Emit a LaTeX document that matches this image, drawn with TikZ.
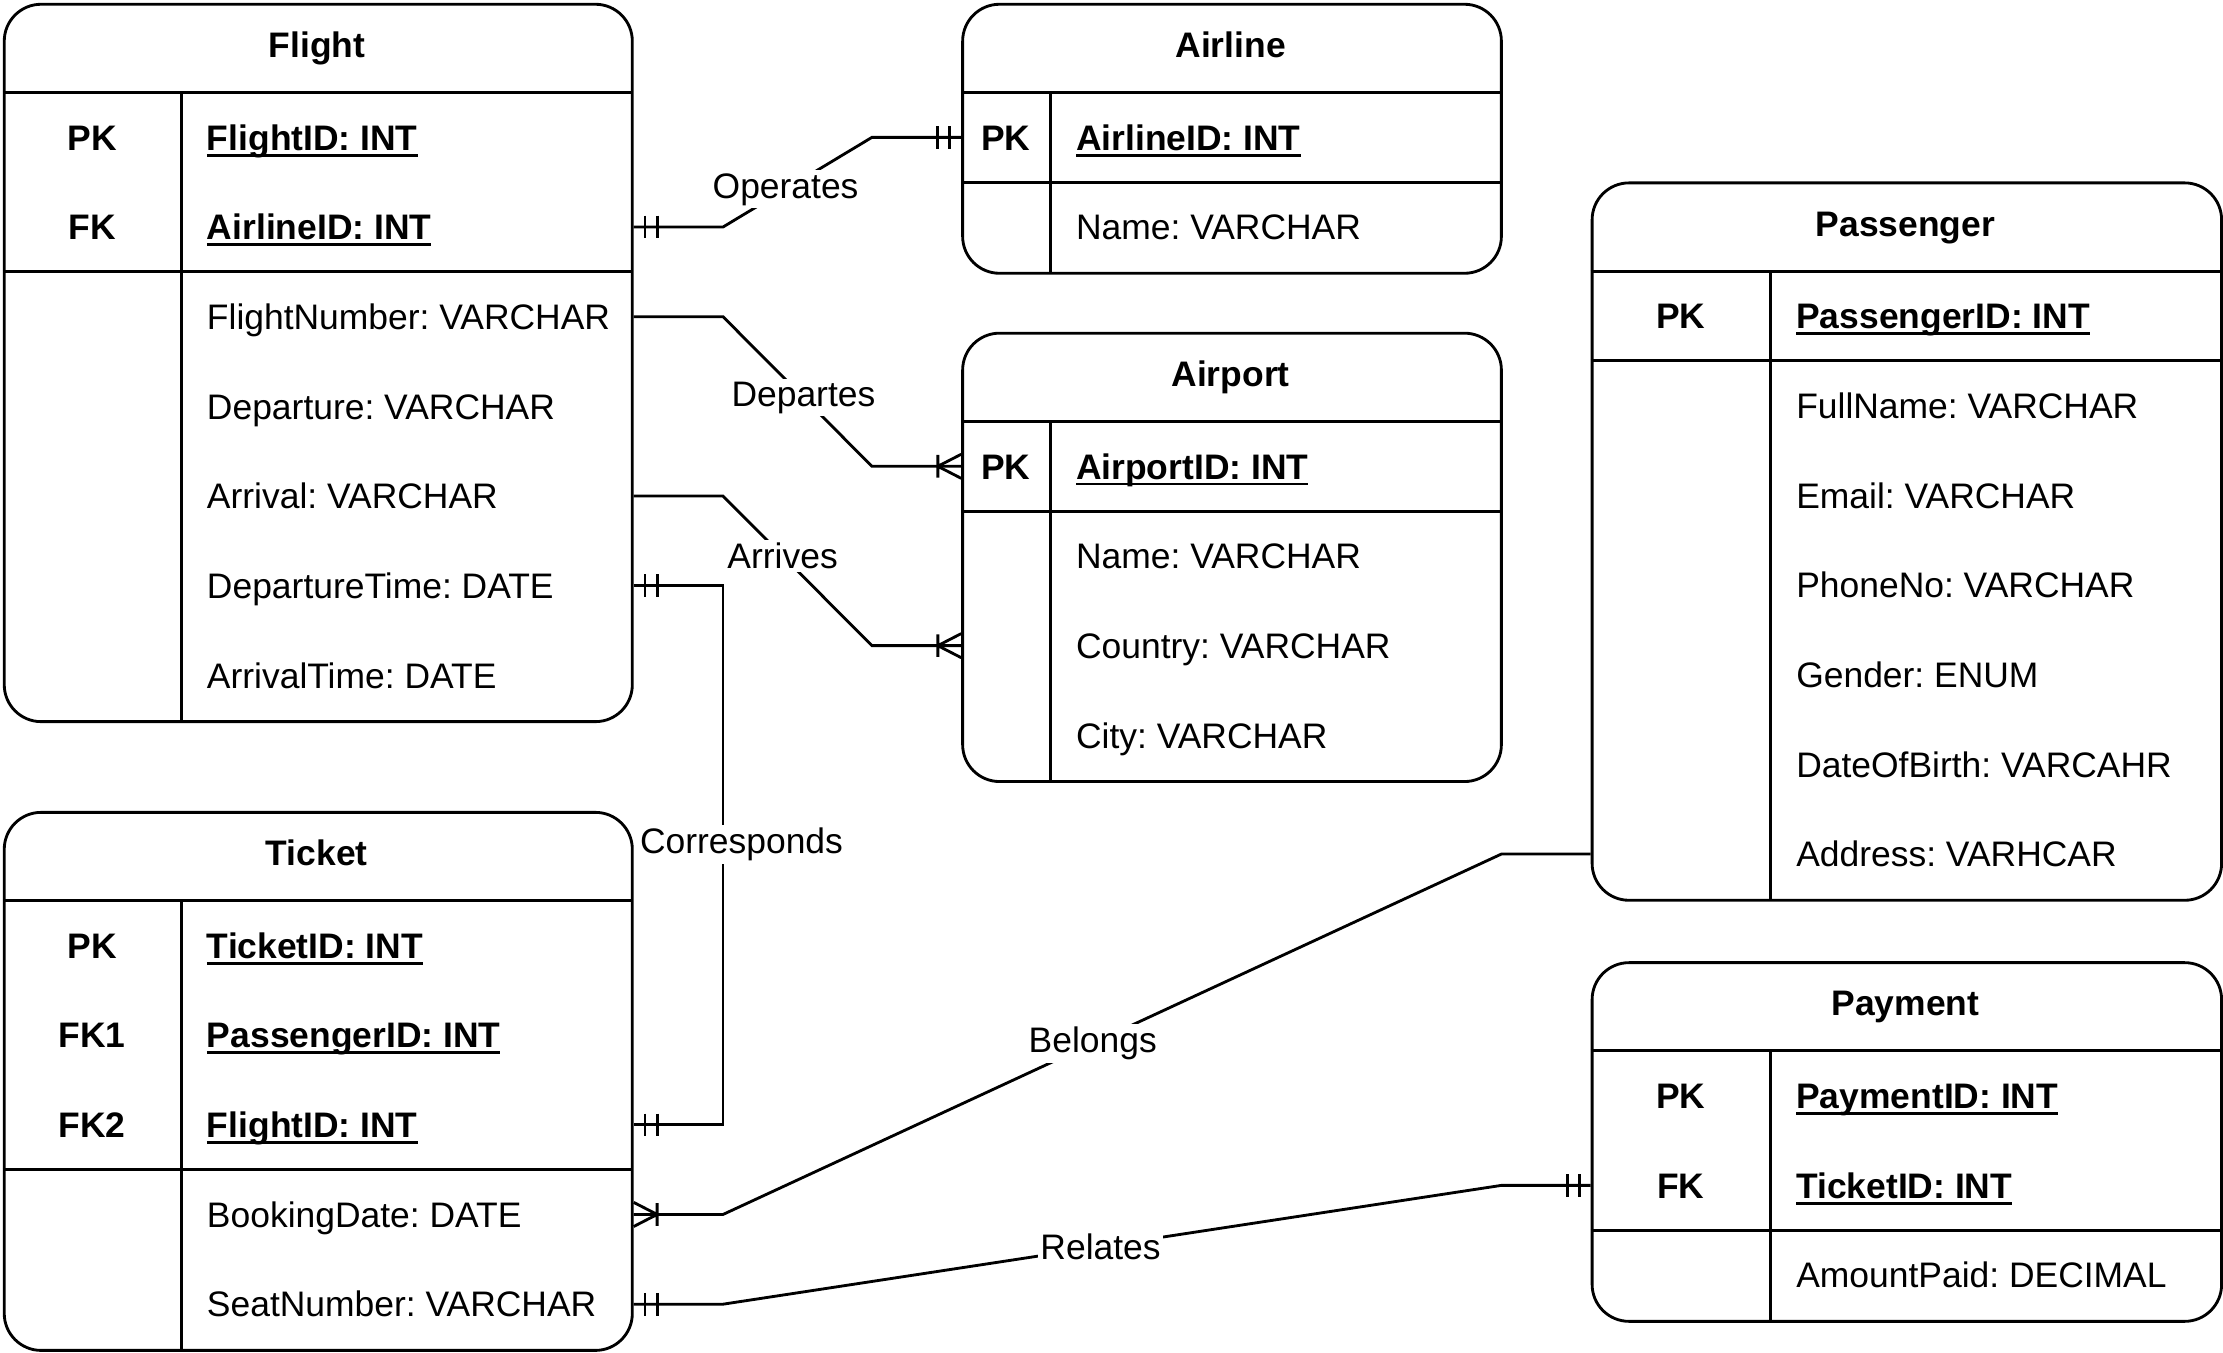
\documentclass[tikz,border=0pt]{standalone}
\usepackage{fontspec}
\setmainfont{Liberation Sans}
\usepackage{tikz}
\usetikzlibrary{calc}
\usetikzlibrary{positioning}
\frenchspacing
\newcommand{\keyline}[1]{\setbox0\hbox{#1}\rlap{\rule[-4.5pt]{\wd0}{2pt}}\box0}
\tikzstyle{entity} = [rectangle, draw=black, rounded corners=26pt, anchor=north west, inner sep=0pt]
\tikzstyle{title} = [inner sep=0pt, text height=18pt, text depth=0pt, font=\fontsize{25}{30}\selectfont\bfseries]
\tikzstyle{keyname} = [title]
\tikzstyle{attr} = [anchor=west, inner sep=0pt, text height=18pt, text depth=0pt, font=\fontsize{25}{30}\selectfont]
\tikzstyle{keyattr} = [attr, font=\fontsize{25}{30}\selectfont\bfseries]
\tikzstyle{rel} = [fill=white, inner sep=2pt, font=\fontsize{25}{30}\selectfont]
\tikzstyle{link} = [draw=black, line width=2pt]
\tikzset{
  onemark/.pic={\draw[link] (8,-8) -- (8,8) (16.5,-8) -- (16.5,8);},
  manymark/.pic={\draw[link] (16.5,-8) -- (16.5,8) (0,-8.5) -- (16.5,0) -- (0,8.5);}
}

\begin{document}
\begin{tikzpicture}[x=1pt, y=-1pt, line width=2pt]
\useasboundingbox (0,0) rectangle (1568,954);

% Flight
\node (flight) [entity, minimum width=443pt, minimum height=506pt] at (2,2) {};
\node (flighttitle) [title] at (223.5,31.6) {Flight};
\draw (2,65.25) -- (445,65.25) (2,191.75) -- (445,191.75) (128,65.25) -- (128,508);
\node (fpk) [keyname] at (65,96.9) {PK};
\node (fpkattr) [keyattr] at (145,96.9) {\keyline{FlightID: INT}};
\node (ffk) [keyname] at (65,160.1) {FK};
\node (ffkattr) [keyattr] at (145,160.1) {\keyline{AirlineID: INT}};
\node (fnumber) [attr] at (145,223.4) {FlightNumber: VARCHAR};
\node (fdeparture) [attr] at (145,286.6) {Departure: VARCHAR};
\node (farrival) [attr] at (145,349.9) {Arrival: VARCHAR};
\node (fdeptime) [attr] at (145,413.1) {DepartureTime: DATE};
\node (farrtime) [attr] at (145,476.4) {ArrivalTime: DATE};

% Airline
\node (airline) [entity, minimum width=380pt, minimum height=189.75pt] at (678,2) {};
\node (airlinetitle) [title] at (868,31.6) {Airline};
\draw (678,65.25) -- (1058,65.25) (678,128.5) -- (1058,128.5) (741,65.25) -- (741,191.75);
\node (alpk) [keyname] at (709.5,96.9) {PK};
\node (alpkattr) [keyattr] at (758,96.9) {\keyline{AirlineID: INT}};
\node (alname) [attr] at (758,160.1) {Name: VARCHAR};

% Airport
\node (airport) [entity, minimum width=380pt, minimum height=316.25pt] at (678,234) {};
\node (airporttitle) [title] at (868,263.6) {Airport};
\draw (678,297.25) -- (1058,297.25) (678,360.5) -- (1058,360.5) (741,297.25) -- (741,550.25);
\node (appk) [keyname] at (709.5,328.9) {PK};
\node (appkattr) [keyattr] at (758,328.9) {\keyline{AirportID: INT}};
\node (apname) [attr] at (758,392.1) {Name: VARCHAR};
\node (apcountry) [attr] at (758,455.4) {Country: VARCHAR};
\node (apcity) [attr] at (758,518.6) {City: VARCHAR};

% Passenger
\node (passenger) [entity, minimum width=444pt, minimum height=506pt] at (1122,128) {};
\node (passengertitle) [title] at (1344,157.6) {Passenger};
\draw (1122,191.25) -- (1566,191.25) (1122,254.5) -- (1566,254.5) (1249,191.25) -- (1249,634);
\node (ppk) [keyname] at (1185.5,222.9) {PK};
\node (ppkattr) [keyattr] at (1266,222.9) {\keyline{PassengerID: INT}};
\node (pname) [attr] at (1266,286.1) {FullName: VARCHAR};
\node (pemail) [attr] at (1266,349.4) {Email: VARCHAR};
\node (pphone) [attr] at (1266,412.6) {PhoneNo: VARCHAR};
\node (pgender) [attr] at (1266,475.9) {Gender: ENUM};
\node (pbirth) [attr] at (1266,539.1) {DateOfBirth: VARCAHR};
\node (paddress) [attr] at (1266,602.4) {Address: VARHCAR};

% Ticket
\node (ticket) [entity, minimum width=443pt, minimum height=379.5pt] at (2,572) {};
\node (tickettitle) [title] at (223.5,601.6) {Ticket};
\draw (2,635.25) -- (445,635.25) (2,825) -- (445,825) (128,635.25) -- (128,951.5);
\node (tpk) [keyname] at (65,666.9) {PK};
\node (tpkattr) [keyattr] at (145,666.9) {\keyline{TicketID: INT}};
\node (tfk1) [keyname] at (65,730.1) {FK1};
\node (tfk1attr) [keyattr] at (145,730.1) {\keyline{PassengerID: INT}};
\node (tfk2) [keyname] at (65,793.4) {FK2};
\node (tfk2attr) [keyattr] at (145,793.4) {\keyline{FlightID: INT}};
\node (tbooking) [attr] at (145,856.6) {BookingDate: DATE};
\node (tseat) [attr] at (145,919.9) {SeatNumber: VARCHAR};

% Payment
\node (payment) [entity, minimum width=444pt, minimum height=253pt] at (1122,678) {};
\node (paymenttitle) [title] at (1344,707.6) {Payment};
\draw (1122,741.25) -- (1566,741.25) (1122,867.75) -- (1566,867.75) (1249,741.25) -- (1249,931);
\node (paypk) [keyname] at (1185.5,772.9) {PK};
\node (paypkattr) [keyattr] at (1266,772.9) {\keyline{PaymentID: INT}};
\node (payfk) [keyname] at (1185.5,836.1) {FK};
\node (payfkattr) [keyattr] at (1266,836.1) {\keyline{TicketID: INT}};
\node (payamount) [attr] at (1266,899.4) {AmountPaid: DECIMAL};

% relationships
\draw [link] (flight.east |- ffk) -- ++(63,0) -- node[rel, pos=0.42] {Operates} ($(airline.west |- alpk)+(-63,0)$) -- (airline.west |- alpk);
\pic at (flight.east |- ffk) {onemark};
\pic [rotate=180] at (airline.west |- alpk) {onemark};

\draw [link] (flight.east |- fnumber) -- ++(63,0) -- node[rel, pos=0.54] {Departes} ($(airport.west |- appk)+(-63,0)$) -- (airport.west |- appk);
\pic [rotate=180] at (airport.west |- appk) {manymark};

\draw [link] (flight.east |- farrival) -- ++(63,0) -- node[rel, pos=0.40] {Arrives} ($(airport.west |- apcountry)+(-63,0)$) -- (airport.west |- apcountry);
\pic [rotate=180] at (airport.west |- apcountry) {manymark};

\draw [link] (flight.east |- fdeptime) -- ++(63,0) -- node[rel, pos=0.48, xshift=13pt] {Corresponds} ($(ticket.east |- tfk2)+(63,0)$) -- (ticket.east |- tfk2);
\pic at (flight.east |- fdeptime) {onemark};
\pic at (ticket.east |- tfk2) {onemark};

\draw [link] (ticket.east |- tbooking) -- ++(63,0) -- node[rel, pos=0.475] {Belongs} ($(passenger.west |- paddress)+(-63,0)$) -- (passenger.west |- paddress);
\pic at (ticket.east |- tbooking) {manymark};

\draw [link] (ticket.east |- tseat) -- ++(63,0) -- node[rel, pos=0.485] {Relates} ($(payment.west |- payfk)+(-63,0)$) -- (payment.west |- payfk);
\pic at (ticket.east |- tseat) {onemark};
\pic [rotate=180] at (payment.west |- payfk) {onemark};
\end{tikzpicture}
\end{document}
